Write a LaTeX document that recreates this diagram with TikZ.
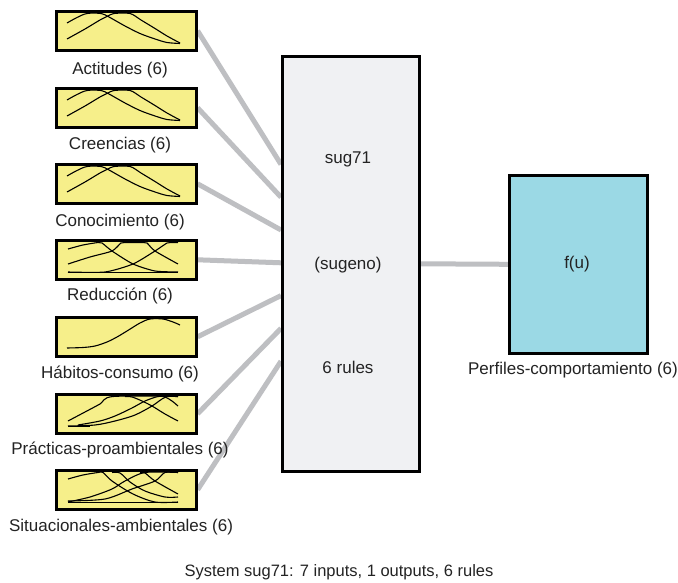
\documentclass[tikz,border=0pt]{standalone}
\usepackage{fontspec}
\setmainfont{Liberation Sans}
\usetikzlibrary{calc}
\pgfdeclarelayer{bg}
\pgfdeclarelayer{wires}
\pgfsetlayers{bg,wires,main}
\definecolor{inyellow}{RGB}{246,239,138}
\definecolor{sysgray}{RGB}{240,241,243}
\definecolor{outblue}{RGB}{155,217,229}
\definecolor{wire}{RGB}{190,191,194}
\definecolor{txt}{RGB}{35,35,35}
\newcommand{\mfTypeA}{%
  \draw[mf] plot[smooth,tension=0.5] coordinates {(12,13) (22,7.5) (32,3.5) (46,3.5) (54,7) (70,16) (85,23.5) (100,29) (112,32.5) (125,33.5)};
  \draw[mf] plot[smooth,tension=0.5] coordinates {(12,29) (30,19) (45,10) (53,6) (59,3.5) (75,3.5) (86,10) (100,18.5) (112,26) (125,33)};
}
\newcommand{\mfTypeR}{%
  \draw[mf] plot[smooth,tension=0.4] coordinates {(13,10) (28,6) (43,3.5) (47,4) (57,12) (78,25) (100,32) (123,33)};
  \draw[mf] plot[smooth,tension=0.4] coordinates {(13,25) (35,18) (57,12) (66,4) (70,3.5) (88,3.5) (92,4) (100,12) (123,25)};
  \draw[mf] plot[smooth,tension=0.4] coordinates {(13,33) (50,33) (78,25) (100,12) (112,4) (116,3.5) (123,3.5)};
  \draw[mf] (13,33.5) -- (123,33.5);
}
\newcommand{\mfTypeH}{%
  \draw[mf] plot[smooth,tension=0.5] coordinates {(12,32) (28,31.5) (40,30) (52,26) (62,21) (72,15) (85,7) (95,3) (108,3) (118,6) (125,9)};
}
\newcommand{\mfTypeP}{%
  \draw[mf] plot[smooth,tension=0.5] coordinates {(13,28) (30,19) (45,11) (58,3.5) (123,3.5)};
  \draw[mf] plot[smooth,tension=0.5] coordinates {(23,32) (45,28) (60,23) (77,15) (90,8) (103,3.5) (110,4) (117,8) (123,13)};
  \draw[mf] plot[smooth,tension=0.5] coordinates {(13,33) (40,32) (60,28) (80,22) (97,13) (107,6) (113,3.5) (123,3.5)};
  \draw[mf] plot[smooth,tension=0.5] coordinates {(70,3.5) (77,4) (87,8) (97,13) (110,21) (123,28)};
  \draw[mf] (13,33.5) -- (35,33.5);
}
\newcommand{\mfTypeS}{%
  \draw[mf] plot[smooth,tension=0.5] coordinates {(13,10) (28,6) (43,3.5) (48,3.5) (57,12) (78,25) (100,33) (123,33)};
  \draw[mf] plot[smooth,tension=0.5] coordinates {(13,33) (35,28) (57,20) (70,12) (90,3.5) (123,3.5)};
  \draw[mf] plot[smooth,tension=0.5] coordinates {(13,32) (50,30) (77,20) (100,12) (110,3.5) (123,3.5)};
  \draw[mf] plot[smooth,tension=0.5] coordinates {(85,3.5) (90,4) (100,12) (123,25)};
  \draw[mf] plot[smooth,tension=0.5] coordinates {(57,3.5) (65,4) (75,13) (90,22) (110,28) (123,28)};
  \draw[mf] (13,33.5) -- (123,33.5);
}
\begin{document}
\begin{tikzpicture}[x=1pt,y=-1pt,
  inbox/.style={draw=black,line width=2.6pt,fill=inyellow,minimum width=140pt,minimum height=39pt,inner sep=0pt,anchor=north west},
  sysbox/.style={draw=black,line width=2.6pt,fill=sysgray,minimum width=137pt,minimum height=415pt,inner sep=0pt,anchor=north west},
  outbox/.style={draw=black,line width=2.6pt,fill=outblue,minimum width=138pt,minimum height=178pt,inner sep=0pt,anchor=north west},
  lbl/.style={font=\fontsize{17}{19}\selectfont,text=txt,inner sep=0pt},
  wirestyle/.style={draw=wire,line width=5pt},
  mf/.style={line width=1.1pt,draw=black}]
\begin{pgfonlayer}{bg}
\fill[white] (0,0) rectangle (678,583);
\end{pgfonlayer}
\useasboundingbox (0,0) rectangle (678,583);

% boxes
\node[sysbox] (sys) at (281,55) {};
\node[outbox] (out) at (508,174) {};
\node[inbox] (in1) at (55,10) {};
\node[inbox] (in2) at (55,87) {};
\node[inbox] (in3) at (55,163) {};
\node[inbox] (in4) at (55,239) {};
\node[inbox] (in5) at (55,316) {};
\node[inbox] (in6) at (55,393) {};
\node[inbox] (in7) at (55,469) {};

% endpoints on the system box
\foreach \k in {1,...,7}{
  \coordinate (e\k) at ($(sys.west)+(0,{(\k-4)*32.8-1})$);
}

% connectors (behind boxes)
\begin{pgfonlayer}{wires}
\foreach \k in {1,...,7}{
  \draw[wirestyle] (in\k.east) -- (e\k);
}
\draw[wirestyle] (sys.east) -- (out.west);
\end{pgfonlayer}

% membership curves
\begin{scope}[shift={(in1.north west)}]\mfTypeA\end{scope}
\begin{scope}[shift={(in2.north west)}]\mfTypeA\end{scope}
\begin{scope}[shift={(in3.north west)}]\mfTypeA\end{scope}
\begin{scope}[shift={(in4.north west)}]\mfTypeR\end{scope}
\begin{scope}[shift={(in5.north west)}]\mfTypeH\end{scope}
\begin{scope}[shift={(in6.north west)}]\mfTypeP\end{scope}
\begin{scope}[shift={(in7.north west)}]\mfTypeS\end{scope}

% labels
\node[lbl] (l1) at (120,70) {Actitudes (6)};
\node[lbl] (l2) at (120,145) {Creencias (6)};
\node[lbl] (l3) at (120,222) {Conocimiento (6)};
\node[lbl] (l4) at (120,296) {Reducción (6)};
\node[lbl] (l5) at (120,374) {Hábitos-consumo (6)};
\node[lbl] (l6) at (120,450) {Prácticas-proambientales (6)};
\node[lbl] (l7) at (121,527) {Situacionales-ambientales (6)};

\node[lbl] (t1) at (348,159) {sug71};
\node[lbl] (t2) at (348,265) {(sugeno)};
\node[lbl] (t3) at (348,367) {6 rules};

\node[lbl] (fu) at (577,264) {f(u)};
\node[lbl] (lo) at (573,370) {Perfiles-comportamiento (6)};

\node[lbl,font=\fontsize{16.5}{19}\selectfont] (sum) at (339,572) {System sug71: 7 inputs, 1 outputs, 6 rules};
\end{tikzpicture}
\end{document}
